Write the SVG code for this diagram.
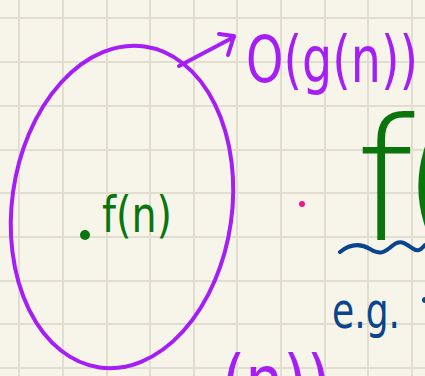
<svg xmlns="http://www.w3.org/2000/svg" width="425" height="376" viewBox="0 0 425 376">
<defs>
<style>
.grid{stroke:#e1ddcf;stroke-width:2;fill:none}
.hand{font-family:"DejaVu Sans",sans-serif}
.purple{fill:#a51ef5}
.green{fill:#0a750c}
.blue{fill:#0a448c}
</style>
</defs>
<rect width="425" height="376" fill="#f7f5ea"/>
<g id="grid" class="grid">
<path d="M19,0V376M63,0V376M107,0V376M150,0V376M194,0V376M237,0V376M281,0V376M325,0V376M368,0V376M412,0V376"/>
<path d="M0,18H425M0,62H425M0,106H425M0,150H425M0,193H425M0,237H425M0,281H425M0,324H425M0,368H425"/>
</g>
<g id="set-O">
<ellipse cx="122" cy="207" rx="110" ry="162" transform="rotate(8 122 207)" fill="none" stroke="#a51ef5" stroke-width="4"/>
</g>
<g id="connectors" fill="none" stroke="#a51ef5" stroke-width="4" stroke-linecap="round" stroke-linejoin="round">
<path d="M179,66 L234,37"/>
<path d="M219,34 L234,36 L228,55"/>
</g>
<g id="label-O">
<text class="hand purple" x="246" y="82" font-size="64" textLength="172" lengthAdjust="spacingAndGlyphs">O(g(n))</text>
</g>
<g id="point-f">
<circle cx="85" cy="235" r="5" fill="#0a750c"/>
<text class="hand green" x="102" y="232" font-size="50" textLength="70" lengthAdjust="spacingAndGlyphs">f(n)</text>
</g>
<g id="pink-dot">
<circle cx="302" cy="204" r="3" fill="#f5148c"/>
</g>
<g id="big-f">
<text class="hand green" x="355" y="240" font-size="170" font-weight="200" letter-spacing="-15">f(</text>
<path d="M340,252 C350,244 360,243 370,249 S384,253 392,246 S405,243 412,248 S421,249 425,245" fill="none" stroke="#0a448c" stroke-width="4" stroke-linecap="round"/>
</g>
<g id="eg">
<text class="hand blue" x="332" y="328" font-size="50" textLength="68" lengthAdjust="spacingAndGlyphs">e.g.</text>
<circle cx="425" cy="300" r="3" fill="#0a448c"/>
</g>
<g id="bottom-label">
<text class="hand purple" x="222" y="405" font-size="70" textLength="108" lengthAdjust="spacingAndGlyphs">(n))</text>
</g>
</svg>
